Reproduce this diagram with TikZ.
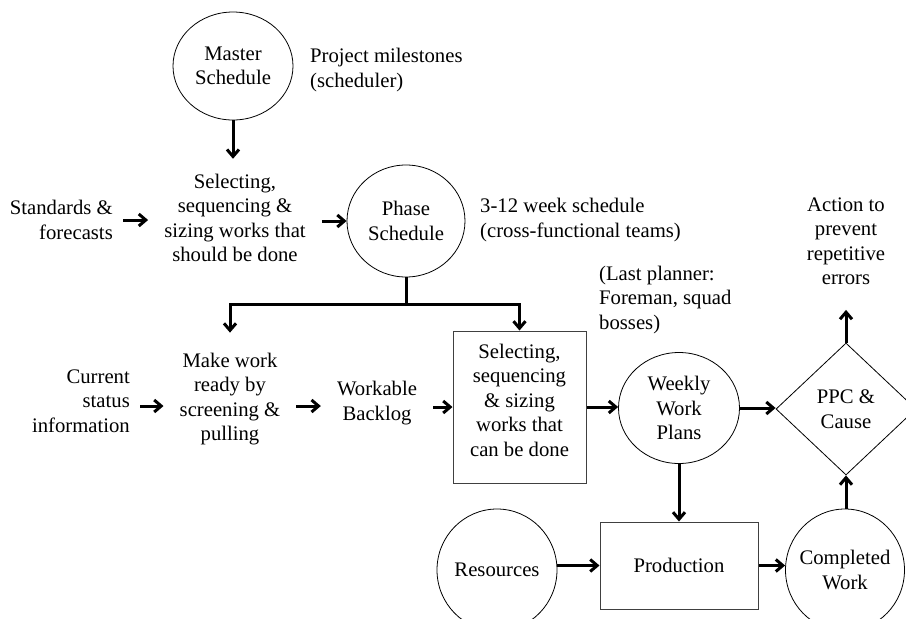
\documentclass[tikz,border=0pt]{standalone}
\usepackage{fontspec}
\setmainfont{Liberation Serif}
\usetikzlibrary{shapes.geometric,arrows.meta}
\begin{document}
\begin{tikzpicture}[x=1pt,y=-1pt,
  every node/.style={font=\fontsize{20.7}{24.5}\selectfont, align=center, inner sep=0pt},
  round/.style={draw, ellipse, line width=0.8pt, inner sep=-12pt},
  box/.style={draw=black!75, rectangle, line width=1pt},
  flow/.style={line width=3pt, -{Straight Barb[length=7pt,width=12pt]}},
  link/.style={line width=3pt}
]
\useasboundingbox (0,0) rectangle (906,619);

% planning levels
\node[round, minimum width=120pt, minimum height=108pt] (master) at (233,66) {Master\\Schedule};
\node[anchor=west, align=left] (milestones) at (310,70) {Project milestones\\(scheduler)};
\node[inner xsep=16pt, inner ysep=15pt] (sel1) at (235,218) {Selecting,\\sequencing \&\\sizing works that\\should be done};
\node[anchor=east, align=right, inner xsep=10pt] (standards) at (123,220) {Standards \&\\forecasts};
\node[round, minimum width=118pt, minimum height=112pt] (phase) at (406,221) {Phase\\Schedule};
\node[anchor=west, align=left] (horizon) at (480,220) {3-12 week schedule\\(cross-functional teams)};
\coordinate (split) at (406,304);
\node[anchor=west, align=left] (planner) at (599,300) {(Last planner:\\Foreman, squad\\bosses)};
\node[inner ysep=25pt] (action) at (846,241) {Action to\\prevent\\repetitive\\errors};

% lookahead and weekly work planning
\node[anchor=east, align=right, inner xsep=10pt] (status) at (140,401) {Current\\status\\information};
\node[inner xsep=16pt, inner ysep=20pt] (ready) at (230,399) {Make work\\ready by\\screening \&\\pulling};
\node[inner xsep=16pt] (backlog) at (377,403) {Workable\\Backlog};
\node[box, minimum width=133pt, minimum height=152pt] (select) at (519.5,407) {};
\node (selecttext) at (519.5,400) {Selecting,\\sequencing\\\& sizing\\works that\\can be done};
\node[round, minimum width=121pt, minimum height=111pt] (weekly) at (679,408) {Weekly\\Work\\Plans};
\node[draw, diamond, line width=0.8pt, minimum width=140pt, minimum height=132pt] (ppc) at (846,409) {PPC \&\\Cause};

% production
\node[round, minimum width=120pt, minimum height=122pt] (resources) at (497,570) {Resources};
\node[box, minimum width=158pt, minimum height=87pt] (production) at (679,565.5) {Production};
\node[round, minimum width=119pt, minimum height=122pt] (completed) at (845,570) {Completed\\Work};

% connectors
\draw[flow] (master.south) -- (master.south |- sel1.north);
\draw[flow] (standards.east) -- (standards.east -| sel1.west);
\draw[flow] (phase.west -| sel1.east) -- (phase.west);
\draw[link] (phase.south) -- (split);
\draw[flow] (split) -| (ready.north);
\draw[flow] (split) -| (select.north);
\draw[flow] ([yshift=-5pt]status.east) -- ([yshift=-5pt]status.east -| ready.west);
\draw[flow] ([yshift=-7pt]ready.east) -- ([yshift=-7pt]ready.east -| backlog.west);
\draw[flow] ([yshift=-4pt]backlog.east) -- ([yshift=-4pt]backlog.east -| select.west);
\draw[flow] (select.east) -- (select.east -| weekly.west);
\draw[flow] (weekly.east) -- (weekly.east -| ppc.west);
\draw[flow] (weekly.south) -- (weekly.south |- production.north);
\draw[flow] (resources.east |- production.west) -- (production.west);
\draw[flow] (production.east) -- (production.east -| completed.west);
\draw[flow] (ppc.south |- completed.north) -- (ppc.south);
\draw[flow] (ppc.north) -- (ppc.north |- action.south);
\end{tikzpicture}
\end{document}
